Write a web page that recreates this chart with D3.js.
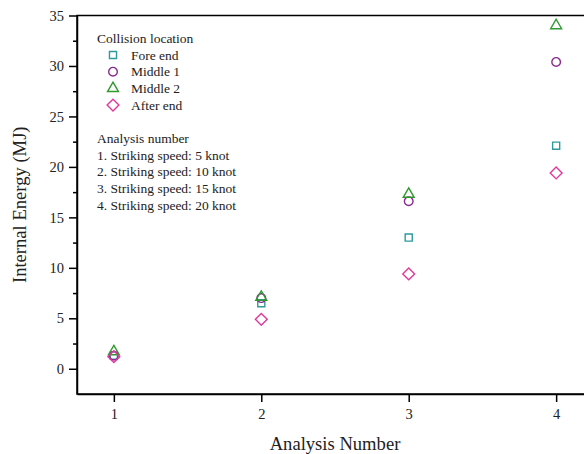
<!DOCTYPE html>
<html>
<head>
<meta charset="utf-8">
<script src="https://cdn.jsdelivr.net/npm/d3@7"></script>
<style>
  html, body { margin: 0; padding: 0; background: #fff; }
  svg { display: block; font-family: "Liberation Serif", "DejaVu Serif", serif; }
</style>
</head>
<body>
<div id="chart"></div>
<script>
// Data
const analysisNumbers = [1, 2, 3, 4];
const foreEnd = [1.3, 6.5, 13.0, 22.1];
const middle1 = [1.3, 7.0, 16.6, 30.4];
const middle2 = [1.7, 7.1, 17.3, 34.0];
const afterEnd = [1.2, 4.9, 9.4, 19.4];
const speedNotes = [
  "1. Striking speed: 5 knot",
  "2. Striking speed: 10 knot",
  "3. Striking speed: 15 knot",
  "4. Striking speed: 20 knot"
];

const width = 584, height = 454;
const plotLeft = 77, plotRight = 593, plotTop = 15.5, plotBottom = 394;

// diamond = square turned 45 degrees (d3's own diamond is too tall)
const series = [
  {name: "Fore end", values: foreEnd, symbol: d3.symbolSquare, size: 50, rot: 0, color: "#2e9aa0"},
  {name: "Middle 1", values: middle1, symbol: d3.symbolCircle, size: 58, rot: 0, color: "#8a2a8e"},
  {name: "Middle 2", values: middle2, symbol: d3.symbolTriangle, size: 52, rot: 0, color: "#2f9a2f"},
  {name: "After end", values: afterEnd, symbol: d3.symbolSquare, size: 70, rot: 45, color: "#e0399d"}
];

const x = d3.scaleLinear().domain([0.75, 4.25]).range([plotLeft, plotRight]);
const y = d3.scaleLinear().domain([-2.5, 35]).range([plotBottom, plotTop]);

const svg = d3.create("svg")
    .attr("width", width)
    .attr("height", height);

// frame
svg.append("rect")
    .attr("x", plotLeft).attr("y", plotTop)
    .attr("width", plotRight - plotLeft).attr("height", plotBottom - plotTop)
    .attr("fill", "none").attr("stroke", "#000").attr("stroke-width", 1.5);

// y axis: major + minor ticks
svg.append("g")
    .attr("transform", `translate(${plotLeft},0)`)
    .call(d3.axisLeft(y).tickValues(d3.range(0, 36, 5)).tickSize(8).tickSizeOuter(0).tickPadding(5));
svg.append("g")
    .attr("transform", `translate(${plotLeft},0)`)
    .call(d3.axisLeft(y).tickValues(d3.range(2.5, 35, 5)).tickSize(4).tickFormat(""))
    .call(g => g.select(".domain").remove());

svg.append("g")
    .attr("transform", `translate(0,${plotBottom})`)
    .call(d3.axisBottom(x).tickValues(analysisNumbers).tickSize(8).tickSizeOuter(0)
      .tickPadding(7).tickFormat(d3.format("d")));

svg.selectAll(".domain").attr("stroke-width", 1.5);
svg.selectAll(".tick line").attr("stroke-width", 1.5);
svg.selectAll(".tick text")
    .attr("font-family", "Liberation Serif")
    .attr("font-size", 14.5)
    .attr("fill", "#222");

// axis titles
svg.append("text")
    .attr("x", (plotLeft + plotRight) / 2)
    .attr("y", 450)
    .attr("text-anchor", "middle")
    .attr("font-size", 18.6)
    .attr("fill", "#222")
    .text("Analysis Number");

svg.append("text")
    .attr("transform", `translate(26,${(plotTop + plotBottom) / 2}) rotate(-90)`)
    .attr("text-anchor", "middle")
    .attr("font-size", 18.6)
    .attr("fill", "#222")
    .text("Internal Energy (MJ)");

// points
series.forEach(s => {
  svg.append("g")
    .selectAll("path")
    .data(s.values)
    .join("path")
    .attr("transform", (d, i) => `translate(${x(analysisNumbers[i])},${y(d)}) rotate(${s.rot})`)
    .attr("d", d3.symbol(s.symbol, s.size))
    .attr("fill", "none")
    .attr("stroke", s.color)
    .attr("stroke-width", 1.4);
});

// legend
const legend = svg.append("g").attr("font-size", 13.5).attr("fill", "#222");
legend.append("text").attr("x", 97).attr("y", 43).text("Collision location");
series.forEach((s, i) => {
  const cy = 55 + i * 16.7;
  legend.append("path")
    .attr("transform", `translate(113,${cy}) rotate(${s.rot})`)
    .attr("d", d3.symbol(s.symbol, s.size))
    .attr("fill", "none")
    .attr("stroke", s.color)
    .attr("stroke-width", 1.4);
  legend.append("text").attr("x", 131).attr("y", cy + 4.5).text(s.name);
});
legend.append("text").attr("x", 97).attr("y", 143).text("Analysis number");
speedNotes.forEach((t, i) => {
  legend.append("text").attr("x", 97).attr("y", 159.7 + i * 16.7).text(t);
});

d3.select("#chart").node().appendChild(svg.node());
</script>
</body>
</html>
